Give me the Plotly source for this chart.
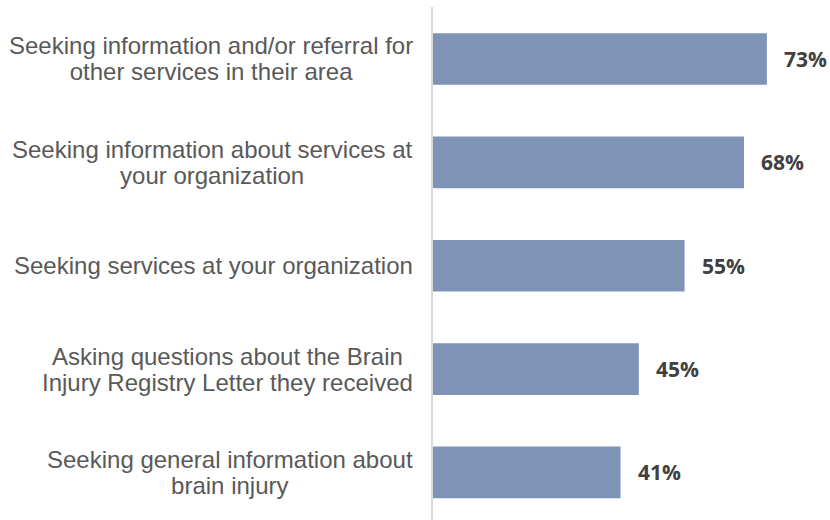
import plotly.graph_objects as go

categories = [
    "Seeking information and/or referral for<br>other services in their area",
    "Seeking information about services at<br>your organization",
    "Seeking services at your organization",
    "Asking questions about the Brain<br>Injury Registry Letter they received",
    "Seeking general information about<br>brain injury",
]
values = [73, 68, 55, 45, 41]
value_labels = ["73%", "68%", "55%", "45%", "41%"]

idx = list(range(len(categories)))

fig = go.Figure(go.Bar(
    x=values, y=idx, orientation="h",
    marker=dict(color="#7f93b6", line=dict(width=0)),
    width=0.5,
    hoverinfo="skip",
))

for i, (v, t) in enumerate(zip(values, value_labels)):
    fig.add_annotation(x=v, y=i, xref="x", yref="y", text=t, showarrow=False,
                       xanchor="left", xshift=15,
                       font=dict(family="Open Sans", size=21, color="#404040", weight="bold"))

for i, c in enumerate(categories):
    txt = "<br>".join('<span style="font-size:24px">%s</span>' % ln for ln in c.split("<br>"))
    fig.add_annotation(x=0, y=i, xref="paper", yref="y", text=txt, showarrow=False,
                       xanchor="right", align="center", xshift=-18,
                       font=dict(family="Liberation Sans", size=20, color="#595959"))

fig.update_layout(
    width=830, height=520,
    margin=dict(l=433, r=0, t=7, b=0),
    paper_bgcolor="white", plot_bgcolor="white",
    showlegend=False,
    xaxis=dict(range=[0, 86.8], visible=False, fixedrange=True),
    yaxis=dict(range=[4.46, -0.503], showticklabels=False, showgrid=False, zeroline=False,
               showline=True, linecolor="#d9d9d9", linewidth=2, ticks=""),
)

fig.write_html("out.html", config={"displayModeBar": False},
               post_script="document.body.style.margin='0';document.body.style.overflow='hidden';")
